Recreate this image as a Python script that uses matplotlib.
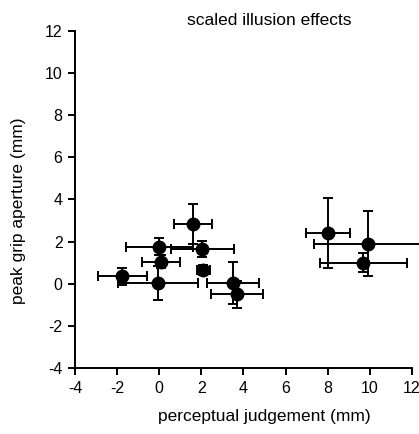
import matplotlib.pyplot as plt
import numpy as np

# perceptual judgement (x) vs peak grip aperture (y), with error bars
x = [-1.75, 0.0, 0.1, -0.05, 1.6, 2.05, 2.1, 3.5, 3.7, 8.0, 9.9, 9.7]
y = [0.35, 1.75, 1.05, 0.05, 2.85, 1.65, 0.65, 0.05, -0.5, 2.4, 1.9, 1.0]
x_err = [1.15, 1.6, 0.9, 1.9, 0.9, 1.5, 0.3, 1.25, 1.25, 1.05, 2.55, 2.05]
y_err = [0.4, 0.4, 0.3, 0.8, 0.95, 0.4, 0.25, 1.0, 0.65, 1.65, 1.55, 0.45]

x_ticks = [-4, -2, 0, 2, 4, 6, 8, 10, 12]
y_ticks = [-4, -2, 0, 2, 4, 6, 8, 10, 12]

plt.rcParams['font.family'] = ['Liberation Sans', 'DejaVu Sans']
plt.rcParams['axes.unicode_minus'] = False

fig = plt.figure(figsize=(4.19, 4.34), dpi=100)
ax = fig.add_axes([0.179, 0.152, 0.804, 0.777])

ax.errorbar(x, y, xerr=x_err, yerr=y_err, fmt='o', color='black',
            markersize=9, elinewidth=1.4, capsize=3.5, capthick=1.4,
            clip_on=False)

ax.set_xlim(-4, 12)
ax.set_ylim(-4, 12)
ax.set_xticks(x_ticks)
ax.set_yticks(y_ticks)
ax.spines['top'].set_visible(False)
ax.spines['right'].set_visible(False)
ax.spines['left'].set_linewidth(1.4)
ax.spines['bottom'].set_linewidth(1.4)
ax.tick_params(direction='out', length=5, width=1.4, labelsize=11.5, pad=4)

fig.text(0.642, 0.953, 'scaled illusion effects', ha='center', va='center', fontsize=12.5)
fig.text(0.63, 0.04, 'perceptual judgement (mm)', ha='center', va='center', fontsize=12.5)
fig.text(0.045, 0.515, 'peak grip aperture (mm)', ha='center', va='center',
         rotation=90, fontsize=12.5)

fig.savefig('out.png', dpi=100)
